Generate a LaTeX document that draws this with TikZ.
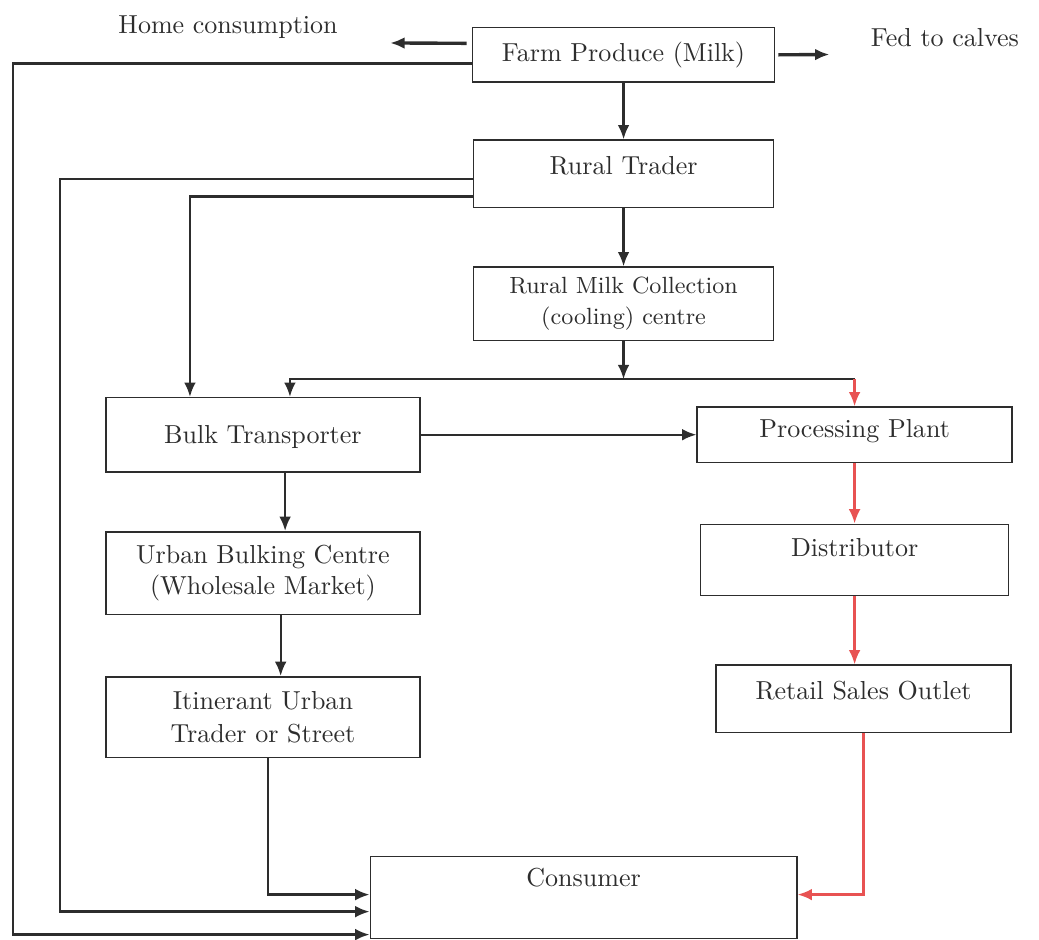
\documentclass[tikz,border=0pt]{standalone}
\usetikzlibrary{positioning,arrows.meta}
\definecolor{ink}{RGB}{45,45,45}
\definecolor{flowred}{RGB}{232,82,82}
\tikzset{>={Latex[length=5.5pt,width=4.5pt]}}
\tikzset{
  box/.style={rectangle, draw=ink, line width=0.6pt, inner xsep=0pt, inner ysep=0pt, text=ink},
  flow/.style={draw=ink, line width=0.9pt},
  redline/.style={draw=flowred, line width=0.9pt, ->}
}
\begin{document}
\begin{tikzpicture}
  \useasboundingbox (0,0) rectangle (14.03,-12.69);
  % main chain
  \node[box, minimum width=4.08cm, text height=0.46cm, text depth=0.28cm] (farm) at (8.42,-0.74) {Farm Produce (Milk)};
  \node[box, below of=farm, node distance=1.607cm, minimum width=4.05cm, text height=0.46cm, text depth=0.45cm] (trader) {Rural Trader};
  \node[box, below of=trader, node distance=1.755cm, minimum width=4.05cm, minimum height=0.99cm, align=center, font=\small] (collect) {Rural Milk Collection\\[1pt](cooling) centre};
  \node[box, minimum width=4.24cm, text height=0.62cm, text depth=0.38cm] (bulk) at (3.55,-5.87) {Bulk Transporter};
  \node[box, right of=bulk, node distance=7.99cm, minimum width=4.25cm, text height=0.405cm, text depth=0.34cm] (plant) {Processing Plant};
  \node[box, below of=bulk, node distance=1.87cm, minimum width=4.24cm, minimum height=1.12cm, align=center] (urban) {Urban Bulking Centre\\(Wholesale Market)};
  \node[box, below of=urban, node distance=1.944cm, minimum width=4.24cm, minimum height=1.09cm, align=center] (itin) {Itinerant Urban\\[1pt]Trader or Street};
  \node[box, below of=plant, node distance=1.69cm, minimum width=4.16cm, text height=0.43cm, text depth=0.53cm] (distr) {Distributor};
  \node[box, below of=distr, node distance=1.877cm, xshift=0.12cm, minimum width=3.98cm, text height=0.46cm, text depth=0.45cm] (retail) {Retail Sales Outlet};
  \node[box, minimum width=5.76cm, text height=0.405cm, text depth=0.70cm] (consumer) at (7.88,-12.12) {Consumer};
  % side outputs
  \node[text=ink] (home) at (3.08,-0.37) {Home consumption};
  \node[text=ink] (calves) at (12.76,-0.51) {Fed to calves};
  \coordinate (homeend) at (5.27,-0.58);
  \coordinate (calvesend) at (11.2,-0.736);
  \coordinate (outer) at (0.175,-12.62);
  \coordinate (inner) at (0.81,-12.31);
  \coordinate (split) at ([yshift=-0.513cm]collect.south);
  \coordinate (splitr) at (split -| plant.north);
  \draw[flow,->, line width=1.3pt] ([xshift=-0.07cm,yshift=0.155cm]farm.west) -- (homeend);
  \draw[flow,->, line width=1.3pt] ([xshift=0.04cm]farm.east) -- (calvesend);
  \draw[flow,->] (farm) -- (trader);
  \draw[flow,->] (trader) -- (collect);
  \draw[flow,->] ([yshift=-0.115cm]farm.west) -| (outer) -- (outer -| consumer.west);
  \draw[flow,->] ([yshift=-0.074cm]trader.west) -| (inner) -- (inner -| consumer.west);
  \draw[flow,->] ([yshift=-0.304cm]trader.west) -| ([xshift=-0.985cm]bulk.north);
  \draw[flow,->] (collect) -- (split);
  \draw[flow,->] (split) -| ([xshift=0.365cm]bulk.north);
  \draw[flow] (split) -- (splitr);
  \draw[redline] (splitr) -- (plant.north);
  \draw[flow,->] (bulk.east) -- (bulk.east -| plant.west);
  \draw[flow,->] ([xshift=0.3cm]bulk.south) -- ([xshift=0.3cm]urban.north);
  \draw[flow,->] ([xshift=0.24cm]urban.south) -- ([xshift=0.24cm]itin.north);
  \draw[flow,->] ([xshift=0.07cm]itin.south) |- ([yshift=0.04cm]consumer.west);
  \draw[redline] (plant) -- (distr);
  \draw[redline] (distr.south) -- (distr.south |- retail.north);
  \draw[redline] (retail.south) |- ([yshift=0.04cm]consumer.east);
\end{tikzpicture}
\end{document}
